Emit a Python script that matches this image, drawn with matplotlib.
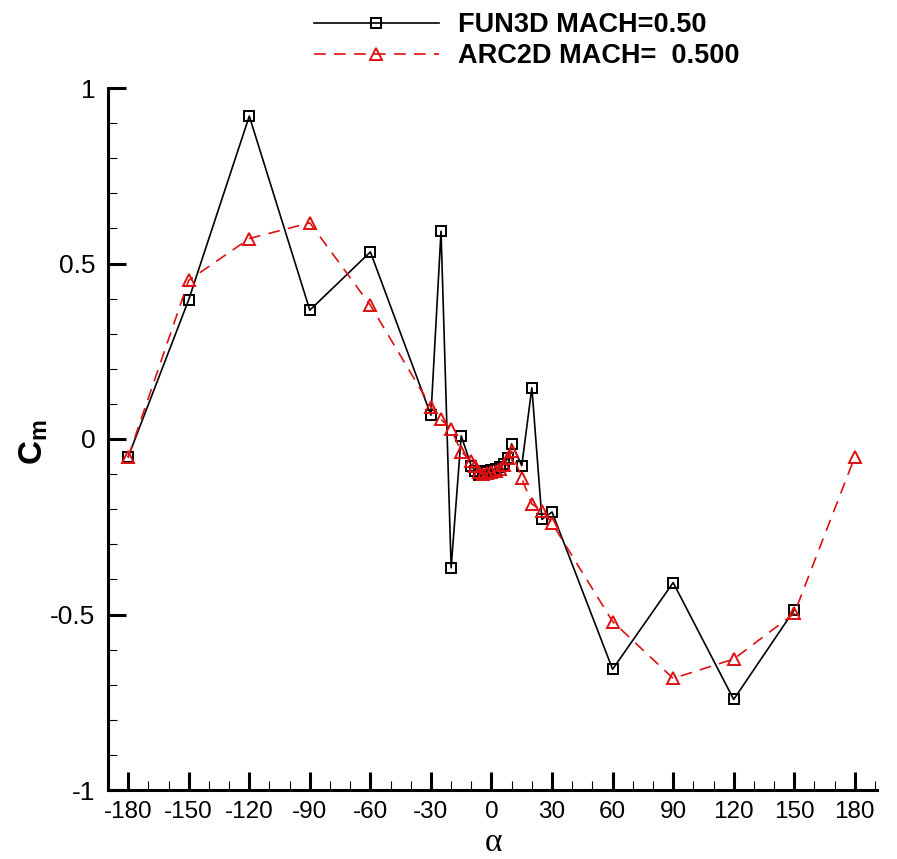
import matplotlib
matplotlib.use("Agg")
import matplotlib.pyplot as plt
from matplotlib.ticker import MultipleLocator

plt.rcParams['font.family'] = ['Liberation Sans', 'DejaVu Sans']
plt.rcParams['mathtext.fontset'] = 'custom'
plt.rcParams['mathtext.bf'] = 'Liberation Sans:bold'
plt.rcParams['mathtext.rm'] = 'Liberation Sans'

# FUN3D results
alpha_fun3d = [-180, -150, -120, -90, -60, -30, -25, -20, -15, -10, -8, -6, -4, -2, 0,
               2, 4, 6, 8, 10, 15, 20, 25, 30, 60, 90, 120, 150]
cm_fun3d = [-0.051, 0.397, 0.92, 0.367, 0.533, 0.068, 0.592, -0.367, 0.009, -0.077,
            -0.09, -0.103, -0.095, -0.09, -0.087, -0.085, -0.08, -0.072, -0.055, -0.014,
            -0.076, 0.146, -0.229, -0.208, -0.656, -0.409, -0.742, -0.487]

# ARC2D results
alpha_arc2d = [-180, -150, -120, -90, -60, -30, -25, -20, -15, -10, -8, -6, -4, -2, 0,
               2, 4, 6, 8, 10, 15, 20, 25, 30, 60, 90, 120, 150, 180]
cm_arc2d = [-0.051, 0.452, 0.571, 0.616, 0.381, 0.092, 0.056, 0.028, -0.036, -0.062,
            -0.078, -0.095, -0.1, -0.097, -0.093, -0.09, -0.085, -0.075, -0.055, -0.035,
            -0.112, -0.185, -0.204, -0.24, -0.52, -0.682, -0.627, -0.497, -0.051]

xticks = [-180, -150, -120, -90, -60, -30, 0, 30, 60, 90, 120, 150, 180]
yticks = [-1, -0.5, 0, 0.5, 1]
ytick_labels = ['-1', '-0.5', '0', '0.5', '1']

fig = plt.figure(figsize=(8.97, 8.59), dpi=100)
ax = fig.add_axes([108/897, 69/859, 769/897, 702/859])

ax.plot(alpha_fun3d, cm_fun3d, color='black', lw=1.2, marker='s', ms=7.2,
        mfc='none', mec='black', mew=1.4, label='FUN3D MACH=0.50')
ax.plot(alpha_arc2d, cm_arc2d, color='#dd1111', lw=1.2, ls=(0, (7, 5)), marker='^', ms=8,
        mfc='none', mec='#dd1111', mew=1.4, label='ARC2D MACH=  0.500')

ax.set_xlim(-190, 191)
ax.set_ylim(-1, 1)
ax.set_xticks(xticks)
ax.set_xticklabels([str(t) for t in xticks], fontsize=17.5)
ax.set_yticks(yticks)
ax.set_yticklabels(ytick_labels, fontsize=19)
ax.xaxis.set_minor_locator(MultipleLocator(10))
ax.yaxis.set_minor_locator(MultipleLocator(0.1))

for s in ['top', 'right']:
    ax.spines[s].set_visible(False)
for s in ['left', 'bottom']:
    ax.spines[s].set_linewidth(2.2)

ax.tick_params(which='major', direction='in', length=13, width=2.2)
ax.tick_params(which='minor', direction='in', length=6.5, width=0.8)
ax.tick_params(axis='y', which='major', pad=9)
ax.tick_params(axis='x', which='major', pad=8)

fig.text(34/897, (859-442)/859, r'$\mathbf{C_m}$', rotation=90, fontsize=24,
         ha='center', va='center')
fig.text(493/897, (859-843)/859, '\u03b1', fontsize=24, ha='center', va='center',
         family='Liberation Serif')

ax.legend(loc='upper left', bbox_to_anchor=(306/897, 1 - 4/859), bbox_transform=fig.transFigure,
          frameon=False, numpoints=1, handlelength=4.6, handletextpad=0.7,
          labelspacing=0.18, borderaxespad=0.1, borderpad=0.2,
          prop={'weight': 'bold', 'size': 19.5})

fig.savefig('out.png', dpi=100)
